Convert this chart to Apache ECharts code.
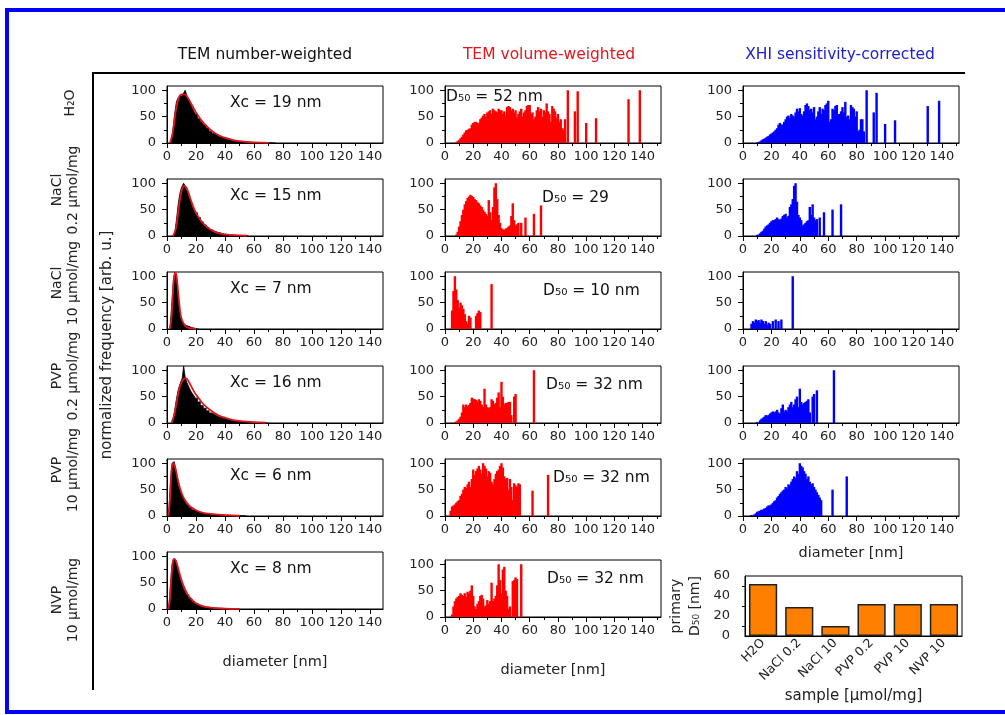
<!DOCTYPE html>
<html>
<head>
<meta charset="utf-8">
<script src="https://cdn.jsdelivr.net/npm/echarts@6/dist/echarts.min.js"></script>
<style>
html, body { margin: 0; padding: 0; background: #fff; }
#chart { width: 1005px; height: 715px; }
</style>
</head>
<body>
<div id="chart"></div>
<script>
// column headers and row labels
const headers = ['TEM number-weighted', 'TEM volume-weighted', 'XHI sensitivity-corrected'];
const samples = ['H₂O', 'NaCl\n0.2 µmol/mg', 'NaCl\n10 µmol/mg', 'PVP\n0.2 µmol/mg', 'PVP\n10 µmol/mg', 'NVP\n10 µmol/mg'];
const xcLabels = ['Xc = 19 nm', 'Xc = 15 nm', 'Xc = 7 nm', 'Xc = 16 nm', 'Xc = 6 nm', 'Xc = 8 nm'];
const d50Labels = ['D₅₀ = 52 nm', 'D₅₀ = 29', 'D₅₀ = 10 nm', 'D₅₀ = 32 nm', 'D₅₀ = 32 nm', 'D₅₀ = 32 nm'];

// TEM number-weighted histograms [diameter nm, freq]
const numH2O = [[3,0],[4,10],[5,35],[6,60],[7,78],[8,85],[9,88],[10,90],[11,92],[12,95],[13,100],[14,92],[15,85],[16,80],[17,72],[18,66],[19,60],[20,55],[22,46],[24,40],[26,34],[28,28],[30,22],[32,18],[34,15],[36,12],[38,10],[40,8],[42,6],[44,5],[46,4],[48,3],[50,2.5],[54,1.5],[58,1],[62,0.7],[66,0.5],[70,0.3],[75,0]];
const numNaCl02 = [[5,0],[6,10],[7,30],[8,55],[9,75],[10,88],[11,95],[12,100],[13,95],[14,88],[15,80],[16,72],[17,64],[18,56],[19,50],[20,44],[22,35],[24,27],[26,21],[28,16],[30,12],[32,9],[34,7],[36,5],[40,3],[44,2],[48,1],[52,0.5],[56,0]];
const numNaCl10 = [[2,0],[3,15],[4,55],[5,95],[6,108],[7,100],[8,70],[9,40],[10,22],[11,14],[12,10],[13,7],[14,5],[16,3],[18,1.5],[20,0.5],[22,0]];
const numPVP02 = [[4,0],[5,10],[6,28],[7,45],[8,60],[9,70],[10,78],[11,85],[12,108],[13,88],[14,78],[15,72],[16,66],[17,60],[18,56],[19,52],[20,47],[22,40],[24,33],[26,28],[28,23],[30,19],[32,16],[34,13],[36,11],[38,9],[40,7],[44,5],[48,3],[52,2],[56,1.5],[60,1],[65,0.5],[70,0]];
const numPVP10 = [[1,0],[2,20],[3,70],[4,100],[5,103],[6,95],[7,82],[8,68],[9,56],[10,46],[11,38],[12,32],[13,27],[14,22],[16,16],[18,12],[20,9],[22,7],[24,5.5],[26,4.5],[28,3.5],[32,2.5],[36,2],[40,1.5],[45,1],[50,0.5],[55,0]];
const numNVP10 = [[1,0],[2,10],[3,50],[4,85],[5,95],[6,93],[7,86],[8,76],[9,64],[10,54],[11,45],[12,38],[13,32],[14,27],[16,20],[18,14],[20,10],[22,7],[24,5],[26,4],[28,3],[32,2],[36,1],[40,0.5],[45,0]];

// red fit curves on the number-weighted panels
const fitH2O = [[2,0],[4,20],[6,60],[8,85],[10,92],[12,92],[14,87],[16,78],[18,68],[20,58],[24,42],[28,30],[32,21],[36,14],[40,10],[45,6],[50,3.5],[55,2],[60,1],[70,0.3]];
const fitNaCl02 = [[4,0],[6,12],[8,50],[10,85],[12,95],[14,88],[16,72],[18,56],[20,44],[24,27],[28,16],[32,9],[36,5],[40,3],[46,1.5],[55,0.5]];
const fitNaCl10 = [[2,0],[3,20],[4,65],[5,100],[6,107],[7,90],[8,60],[9,35],[10,20],[12,8],[14,3],[17,1],[20,0]];
const fitPVP02 = [[3,0],[5,15],[7,45],[9,70],[11,82],[13,85],[15,78],[17,68],[19,58],[21,50],[25,36],[30,24],[35,15],[40,10],[45,6],[50,4],[55,2.5],[60,1.5],[68,0.5]];
const fitPVP10 = [[1,0],[2,30],[3,80],[4,100],[5,98],[6,88],[7,75],[8,62],[10,44],[12,32],[14,24],[16,18],[20,11],[25,6],[30,4],[40,1.5],[50,0.5]];
const fitNVP10 = [[1,0],[2,20],[3,60],[4,88],[5,95],[6,92],[7,84],[8,74],[10,55],[12,40],[14,29],[16,21],[20,11],[25,5],[30,2.5],[40,0.8],[50,0.2]];

// TEM volume-weighted histograms
const volH2O = [[8,2],[9,4],[10,6],[11,9],[12,12],[13,16],[14,20],[15,24],[16,25],[17,27],[18,28],[19,35],[20,38],[21,40],[22,40],[23,38],[24,38],[25,45],[26,48],[27,52],[28,55],[29,50],[30,58],[31,60],[32,62],[33,55],[34,65],[35,62],[36,60],[37,58],[38,65],[39,62],[40,62],[41,55],[42,60],[43,52],[44,68],[45,70],[46,68],[47,62],[48,65],[49,58],[50,62],[51,48],[52,55],[53,60],[54,65],[55,50],[56,58],[57,62],[58,70],[59,72],[60,72],[61,55],[62,58],[63,45],[64,50],[65,62],[66,68],[67,60],[68,65],[69,50],[70,62],[71,58],[72,75],[73,60],[74,55],[75,40],[76,70],[77,65],[78,60],[79,48],[80,55],[81,40],[82,45],[83,28],[84,25],[85,45],[87,100],[92,60],[94,98],[100,38],[107,47],[130,83],[138,100]];
const volNaCl02 = [[8,3],[9,8],[10,18],[11,28],[12,40],[13,50],[14,60],[15,66],[16,72],[17,75],[18,78],[19,76],[20,74],[21,70],[22,68],[23,64],[24,62],[25,58],[26,55],[27,50],[28,46],[29,42],[30,38],[31,68],[32,45],[33,30],[34,55],[35,92],[36,100],[37,70],[38,40],[39,25],[40,15],[41,12],[42,12],[43,14],[44,15],[45,18],[46,20],[47,38],[48,62],[49,30],[50,20],[51,22],[52,25],[54,25],[57,35],[63,42],[68,58]];
const volNaCl10 = [[5,35],[6,72],[7,100],[8,75],[9,55],[10,40],[11,50],[12,45],[13,38],[14,28],[15,15],[16,10],[17,25],[18,22],[22,25],[23,30],[24,35],[25,32],[33,85]];
const volPVP02 = [[7,2],[8,3],[9,5],[10,8],[11,12],[12,20],[13,35],[14,30],[15,35],[16,32],[17,34],[18,38],[19,48],[20,46],[21,45],[22,44],[23,40],[24,45],[25,42],[26,35],[27,30],[28,65],[29,35],[30,30],[31,28],[32,30],[33,45],[34,42],[35,35],[36,38],[37,48],[38,58],[39,30],[40,78],[41,50],[42,35],[43,38],[44,38],[45,40],[46,40],[47,15],[49,50],[50,55],[63,100]];
const volPVP10 = [[4,10],[5,18],[6,20],[7,22],[8,25],[9,28],[10,30],[11,38],[12,42],[13,50],[14,55],[15,53],[16,60],[17,65],[18,55],[19,70],[20,88],[21,78],[22,85],[23,90],[24,95],[25,88],[26,80],[27,100],[28,95],[29,90],[30,75],[31,85],[32,82],[33,65],[34,60],[35,70],[36,80],[37,85],[38,88],[39,95],[40,100],[41,92],[42,75],[43,70],[44,72],[45,50],[46,70],[47,55],[48,30],[49,62],[50,58],[51,55],[52,62],[53,60],[62,48],[73,78]];
const volNVP10 = [[5,5],[6,20],[7,30],[8,35],[9,38],[10,40],[11,45],[12,42],[13,40],[14,45],[15,38],[16,48],[17,45],[18,50],[19,60],[20,40],[21,20],[22,15],[23,25],[24,30],[25,40],[26,42],[27,35],[28,20],[29,22],[30,32],[31,25],[32,30],[33,65],[34,30],[35,35],[36,40],[37,60],[38,100],[39,70],[40,45],[41,90],[42,95],[43,50],[44,40],[45,15],[46,20],[48,68],[49,70],[50,75],[51,72],[54,100]];

// XHI sensitivity-corrected histograms
const xhiH2O = [[10,1],[11,2],[12,3],[13,5],[14,7],[15,8],[16,10],[17,12],[18,13],[19,16],[20,18],[21,20],[22,22],[23,25],[24,28],[25,35],[26,38],[27,35],[28,35],[29,40],[30,45],[31,50],[32,52],[33,48],[34,55],[35,52],[36,50],[37,58],[38,65],[39,60],[40,66],[41,55],[42,52],[43,60],[44,72],[45,75],[46,70],[47,62],[48,65],[49,58],[50,68],[51,45],[52,50],[53,60],[54,68],[55,55],[56,65],[57,62],[58,72],[59,75],[60,80],[61,40],[62,45],[63,65],[64,62],[65,70],[66,72],[67,55],[68,55],[69,60],[70,68],[71,58],[72,78],[73,50],[74,52],[75,45],[76,72],[77,68],[78,65],[79,50],[80,60],[81,22],[82,25],[83,45],[84,45],[85,22],[87,100],[92,58],[94,95],[100,36],[107,43],[130,70],[138,80]];
const xhiNaCl02 = [[10,2],[11,3],[12,5],[13,8],[14,10],[15,14],[16,18],[17,20],[18,22],[19,25],[20,28],[21,30],[22,30],[23,32],[24,35],[25,32],[26,30],[27,33],[28,38],[29,40],[30,42],[31,35],[32,38],[33,55],[34,60],[35,70],[36,95],[37,100],[38,65],[39,40],[40,35],[41,30],[42,20],[43,22],[44,25],[45,28],[46,30],[47,55],[48,40],[49,60],[50,35],[51,30],[52,32],[54,35],[57,45],[63,50],[69,60]];
const xhiNaCl10 = [[6,10],[7,15],[8,12],[9,18],[10,15],[11,17],[12,12],[13,18],[14,15],[15,10],[16,15],[17,8],[18,12],[19,10],[21,15],[23,18],[25,15],[27,18],[35,100]];
const xhiPVP02 = [[10,2],[12,5],[13,8],[14,10],[15,12],[16,15],[17,14],[18,15],[19,18],[20,20],[21,22],[22,20],[23,22],[24,25],[25,20],[26,18],[27,28],[28,35],[29,22],[30,25],[31,22],[32,30],[33,35],[34,40],[35,30],[36,35],[37,45],[38,50],[39,30],[40,65],[41,40],[42,35],[43,38],[44,40],[45,42],[46,45],[47,20],[49,50],[50,55],[52,62],[64,100]];
const xhiPVP10 = [[6,2],[8,3],[9,5],[10,8],[11,9],[12,10],[13,12],[14,12],[15,14],[16,15],[17,18],[18,20],[19,20],[20,22],[21,25],[22,28],[23,30],[24,35],[25,38],[26,42],[27,45],[28,48],[29,50],[30,55],[31,52],[32,60],[33,58],[34,65],[35,70],[36,75],[37,72],[38,85],[39,80],[40,100],[41,95],[42,92],[43,85],[44,80],[45,70],[46,75],[47,65],[48,60],[49,62],[50,55],[51,50],[52,45],[53,40],[54,35],[55,30],[63,50],[73,75]];

// primary D50 summary bar chart
const barCats = ['H2O', 'NaCl 0.2', 'NaCl 10', 'PVP 0.2', 'PVP 10', 'NVP 10'];
const barD50 = [52, 29, 10, 32, 32, 32];

const numSets = [numH2O, numNaCl02, numNaCl10, numPVP02, numPVP10, numNVP10];
const fitSets = [fitH2O, fitNaCl02, fitNaCl10, fitPVP02, fitPVP10, fitNVP10];
const volSets = [volH2O, volNaCl02, volNaCl10, volPVP02, volPVP10, volNVP10];
const xhiSets = [xhiH2O, xhiNaCl02, xhiNaCl10, xhiPVP02, xhiPVP10];

const FONT = 'DejaVu Sans';
const RED = '#ff0000';
const BLUE = '#0000ff';
const colLeft = [167, 445, 743];
const colMax = [149, 153, 152];
const PW = 216, PH = 57;

function bottomOf(col, row) {
    if (col === 1 && row === 5) return 617;
    return Math.round(143 + row * 93.2);
}

const grids = [], xAxes = [], yAxes = [], series = [], graphics = [];

function addPanel(col, row, axisName, nameGap) {
    const gi = grids.length;
    const b = bottomOf(col, row);
    grids.push({
        left: colLeft[col], top: b - PH, width: PW, height: PH,
        show: true, borderColor: '#000', borderWidth: 1
    });
    xAxes.push({
        type: 'value', gridIndex: gi, min: 0, max: colMax[col], interval: 20,
        axisLine: { onZero: false, lineStyle: { color: '#000', width: 1 } },
        axisTick: { length: 5, customValues: [0, 20, 40, 60, 80, 100, 120, 140], lineStyle: { color: '#000' } },
        minorTick: { show: true, splitNumber: 2, length: 3, lineStyle: { color: '#000' } },
        axisLabel: {
            fontSize: 13, color: '#222', margin: 7, fontFamily: FONT,
            formatter: v => (v % 20 === 0 && v <= 140) ? String(v) : ''
        },
        splitLine: { show: false },
        name: axisName || '', nameLocation: 'middle', nameGap: nameGap || 0,
        nameTextStyle: { fontSize: 14.5, color: '#222', fontFamily: FONT }
    });
    yAxes.push({
        type: 'value', gridIndex: gi, min: 0, max: 108, interval: 50,
        axisLine: { show: true, lineStyle: { color: '#000', width: 1 } },
        axisTick: { length: 5, customValues: [0, 50, 100], lineStyle: { color: '#000' } },
        minorTick: { show: true, splitNumber: 2, length: 3, lineStyle: { color: '#000' } },
        axisLabel: {
            fontSize: 13, color: '#222', margin: 11, fontFamily: FONT,
            formatter: v => (v % 50 === 0 && v <= 100) ? String(v) : ''
        },
        splitLine: { show: false }
    });
    return gi;
}

// column 1: number-weighted (black histogram + red fit)
for (let r = 0; r < 6; r++) {
    const gi = addPanel(0, r, r === 5 ? 'diameter [nm]' : '', 46);
    series.push({
        type: 'line', xAxisIndex: gi, yAxisIndex: gi, data: numSets[r],
        step: 'middle', symbol: 'none', clip: true,
        lineStyle: { color: '#000', width: 0.8 },
        areaStyle: { color: '#000', opacity: 1 }
    });
    series.push({
        type: 'line', xAxisIndex: gi, yAxisIndex: gi, data: fitSets[r],
        smooth: 0.4, symbol: 'none', clip: true, z: 4,
        lineStyle: { color: '#e4141b', width: 1.8 }
    });
    graphics.push({
        type: 'text', x: 230, y: bottomOf(0, r) - PH + 17,
        style: { text: xcLabels[r], fill: '#111', fontSize: 15.5, fontFamily: FONT, verticalAlign: 'middle' }
    });
}

// column 2: volume-weighted (red bars)
const d50X = [446, 542, 543, 546, 553, 547];
for (let r = 0; r < 6; r++) {
    const gi = addPanel(1, r, r === 5 ? 'diameter [nm]' : '', 46);
    series.push({
        type: 'bar', xAxisIndex: gi, yAxisIndex: gi, data: volSets[r],
        barWidth: 2.4, itemStyle: { color: RED }
    });
    graphics.push({
        type: 'text', x: d50X[r], y: bottomOf(1, r) - PH + (r === 0 ? 11 : 19),
        style: { text: d50Labels[r], fill: '#111', fontSize: 15.5, fontFamily: FONT, verticalAlign: 'middle' }
    });
}

// column 3: XHI (blue bars)
for (let r = 0; r < 5; r++) {
    const gi = addPanel(2, r, r === 4 ? 'diameter [nm]' : '', 30);
    series.push({
        type: 'bar', xAxisIndex: gi, yAxisIndex: gi, data: xhiSets[r],
        barWidth: 2.4, itemStyle: { color: BLUE }
    });
}

// summary bar chart
const bgi = grids.length;
grids.push({ left: 745, top: 576, width: 217, height: 60, show: true, borderColor: '#000', borderWidth: 1 });
xAxes.push({
    type: 'category', gridIndex: bgi, data: barCats,
    axisLine: { lineStyle: { color: '#000' } },
    axisTick: { show: false },
    axisLabel: { rotate: 45, interval: 0, fontSize: 12.5, color: '#222', margin: 5, fontFamily: FONT },
    name: 'sample [µmol/mg]', nameLocation: 'middle', nameGap: 53,
    nameTextStyle: { fontSize: 15, color: '#222', fontFamily: FONT }
});
yAxes.push({
    type: 'value', gridIndex: bgi, min: 0, max: 60, interval: 20,
    axisLine: { show: true, lineStyle: { color: '#000' } },
    axisTick: { length: 6, lineStyle: { color: '#000' } },
    minorTick: { show: true, splitNumber: 2, length: 3, lineStyle: { color: '#000' } },
    axisLabel: { fontSize: 13, color: '#222', margin: 15, fontFamily: FONT },
    splitLine: { show: false }
});
series.push({
    type: 'bar', xAxisIndex: bgi, yAxisIndex: bgi, data: barD50, barWidth: '78%',
    itemStyle: { color: '#ff8000', borderColor: '#222', borderWidth: 1.5 }
});

// frame, headers and side labels
graphics.push({ type: 'rect', shape: { x: 7, y: 10, width: 1010, height: 702 }, style: { fill: 'none', stroke: BLUE, lineWidth: 4 } });
graphics.push({ type: 'polyline', shape: { points: [[965, 73], [93, 73], [93, 690]] }, style: { fill: 'none', stroke: '#000', lineWidth: 2 } });
const headerX = [265, 549, 840];
const headerColor = ['#111', '#e3161d', '#2020d0'];
headers.forEach((h, i) => {
    graphics.push({
        type: 'text', x: headerX[i], y: 55,
        style: { text: h, fill: headerColor[i], fontSize: 15.5, fontFamily: FONT, align: 'center', verticalAlign: 'middle' }
    });
});
const sampleY = [103, 190, 283, 376, 470, 600];
samples.forEach((s, i) => {
    graphics.push({
        type: 'text', x: i === 0 ? 70 : 65, y: sampleY[i], rotation: Math.PI / 2,
        style: { text: s, fill: '#222', fontSize: 14, lineHeight: 16, fontFamily: FONT, align: 'center', verticalAlign: 'middle' }
    });
});
graphics.push({
    type: 'text', x: 107, y: 345, rotation: Math.PI / 2,
    style: { text: 'normalized frequency [arb. u.]', fill: '#222', fontSize: 15, fontFamily: FONT, align: 'center', verticalAlign: 'middle' }
});
graphics.push({
    type: 'text', x: 686, y: 606, rotation: Math.PI / 2,
    style: { text: 'primary\nD₅₀ [nm]', fill: '#222', fontSize: 14, lineHeight: 19, fontFamily: FONT, align: 'center', verticalAlign: 'middle' }
});

const chart = echarts.init(document.getElementById('chart'));
chart.setOption({
    animation: false,
    backgroundColor: '#fff',
    textStyle: { fontFamily: FONT },
    grid: grids,
    xAxis: xAxes,
    yAxis: yAxes,
    series: series,
    graphic: graphics
});
</script>
</body>
</html>
